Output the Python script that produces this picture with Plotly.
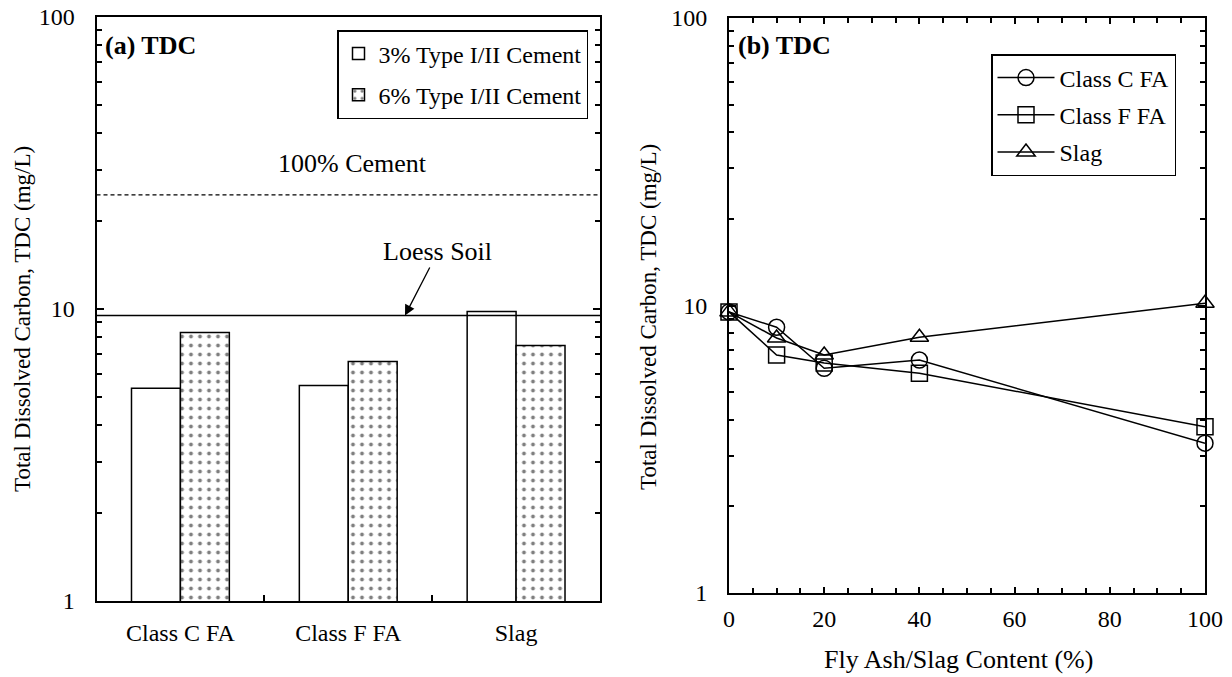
import plotly.graph_objects as go
import math

# ---------------- data ----------------
materials = ["Class C FA", "Class F FA", "Slag"]
tdc_3pct = [5.35, 5.47, 9.8]
tdc_6pct = [8.31, 6.61, 7.5]
cement_100 = 24.6
loess_soil = 9.5

content = [0, 10, 20, 40, 100]
class_c = [9.5, 8.4, 6.05, 6.46, 3.32]
class_f = [9.5, 6.73, 6.31, 5.81, 3.79]
slag = [9.5, 7.71, 6.73, 7.75, 10.18]

y_ticks = [1, 10, 100]
y_minor = [2, 3, 4, 5, 6, 7, 8, 9, 20, 30, 40, 50, 60, 70, 80, 90]

FONT = "Liberation Serif, Times New Roman, serif"
W, H = 1232, 677


def px(x):
    return x / W


def py(y):
    return 1 - y / H


fig = go.Figure()

# ---------- panel (a): bars ----------
fig.add_trace(go.Bar(
    x=materials, y=tdc_3pct, name="3% Type I/II Cement",
    marker=dict(color="white", line=dict(color="black", width=1.5)),
    xaxis="x", yaxis="y", legend="legend", legendgroup="g1"))
fig.add_trace(go.Bar(
    x=materials, y=tdc_6pct, name="6% Type I/II Cement",
    marker=dict(color="white", line=dict(color="black", width=1.5),
                pattern=dict(shape=".", fgcolor="black", bgcolor="white",
                             size=9, solidity=0.14)),
    xaxis="x", yaxis="y", legend="legend", legendgroup="g2"))

# reference lines on an overlaid numeric x axis
fig.add_trace(go.Scatter(x=[0, 1], y=[cement_100, cement_100], mode="lines",
                         line=dict(color="black", width=1.2, dash="4px,3px"),
                         xaxis="x3", yaxis="y", showlegend=False, hoverinfo="skip"))
fig.add_trace(go.Scatter(x=[0, 1], y=[loess_soil, loess_soil], mode="lines",
                         line=dict(color="black", width=1.5),
                         xaxis="x3", yaxis="y", showlegend=False, hoverinfo="skip"))

# ---------- panel (b): lines ----------
series = [("Class C FA", class_c, "circle-open"),
          ("Class F FA", class_f, "square-open"),
          ("Slag", slag, "triangle-up-open")]
for i, (nm, vals, sym) in enumerate(series):
    fig.add_trace(go.Scatter(
        x=content, y=vals, name=nm, mode="lines+markers",
        line=dict(color="black", width=1.5),
        marker=dict(symbol=sym, size=16, color="black", line=dict(width=1.5)),
        cliponaxis=False,
        xaxis="x2", yaxis="y2", legend="legend2", legendgroup=f"h{i}"))

ax_common = dict(showline=True, linecolor="black", linewidth=2,
                 showgrid=False, zeroline=False, ticklabeloverflow="allow",
                 tickfont=dict(family=FONT, size=24, color="black"))

xa_dom = [px(96.5), px(600)]
ya_dom = [py(601), py(17)]
xb_dom = [px(729), px(1205)]
yb_dom = [py(593), py(18)]

fig.update_layout(
    width=W, height=H,
    margin=dict(l=0, r=0, t=0, b=0, autoexpand=False),
    paper_bgcolor="white", plot_bgcolor="white",
    font=dict(family=FONT, size=22, color="black"),
    barmode="group", bargap=0.417, bargroupgap=0,
    xaxis=dict(domain=xa_dom, anchor="y", type="category",
               ticks="inside", tickson="boundaries", ticklen=6, tickwidth=1.5,
               tickcolor="black", mirror=True, ticklabelstandoff=9,
               **ax_common),
    yaxis=dict(domain=ya_dom, anchor="x", type="log", range=[0, 2],
               tickvals=y_ticks, ticktext=[str(v) for v in y_ticks],
               ticks="inside", ticklen=7, tickwidth=1.5, tickcolor="black",
               mirror="ticks", ticklabelstandoff=15,
               minor=dict(tickvals=y_minor, ticks="inside", ticklen=5,
                          tickwidth=1.5, tickcolor="black"),
               **ax_common),
    xaxis3=dict(domain=xa_dom, anchor="y", overlaying="x", range=[0, 1],
                visible=False),
    xaxis2=dict(domain=xb_dom, anchor="y2", range=[0, 100],
                tickvals=[0, 20, 40, 60, 80, 100],
                ticks="inside", ticklen=6, tickwidth=1.5, tickcolor="black",
                mirror="ticks", ticklabelstandoff=3,
                minor=dict(dtick=5, ticks="inside", ticklen=5,
                           tickwidth=1.5, tickcolor="black"),
                **ax_common),
    yaxis2=dict(domain=yb_dom, anchor="x2", type="log", range=[0, 2],
                tickvals=y_ticks, ticktext=[str(v) for v in y_ticks],
                ticks="inside", ticklen=7, tickwidth=1.5, tickcolor="black",
                mirror="ticks", ticklabelstandoff=15,
                minor=dict(tickvals=y_minor, ticks="inside", ticklen=5,
                           tickwidth=1.5, tickcolor="black"),
                **ax_common),
    legend=dict(x=px(337), y=py(30), xanchor="left", yanchor="top",
                bordercolor="black", borderwidth=1.5, bgcolor="white",
                font=dict(family=FONT, size=24), tracegroupgap=7,
                traceorder="grouped", itemwidth=30),
    legend2=dict(x=px(991), y=py(54), xanchor="left", yanchor="top",
                 bordercolor="black", borderwidth=1.5, bgcolor="white",
                 font=dict(family=FONT, size=24), tracegroupgap=3,
                 traceorder="grouped", itemwidth=57),
    showlegend=True,
)

annots = [
    dict(text="<b>(a) TDC</b>", x=px(103), y=py(46), xref="paper", yref="paper",
         xanchor="left", yanchor="middle", showarrow=False,
         font=dict(family=FONT, size=26)),
    dict(text="<b>(b) TDC</b>", x=px(736), y=py(46), xref="paper", yref="paper",
         xanchor="left", yanchor="middle", showarrow=False,
         font=dict(family=FONT, size=26)),
    dict(text="100% Cement", x=0.509, y=1.5, xref="x3", yref="y",
         xanchor="center", yanchor="middle",
         showarrow=False, font=dict(family=FONT, size=26)),
    dict(text="Loess Soil", x=0.6127, y=math.log10(loess_soil), xref="x3", yref="y",
         showarrow=True, arrowhead=2, arrowsize=1.6, arrowwidth=1.3,
         arrowcolor="black", ax=33, ay=-64, font=dict(family=FONT, size=26)),
    dict(text="Total Dissolved Carbon, TDC (mg/L)", x=px(22), y=py(319),
         xref="paper", yref="paper", textangle=-90, showarrow=False,
         xanchor="center", yanchor="middle",
         font=dict(family=FONT, size=23)),
    dict(text="Total Dissolved Carbon, TDC (mg/L)", x=px(648), y=py(317),
         xref="paper", yref="paper", textangle=-90, showarrow=False,
         xanchor="center", yanchor="middle",
         font=dict(family=FONT, size=23)),
    dict(text="Fly Ash/Slag Content (%)", x=px(958), y=py(659),
         xref="paper", yref="paper", showarrow=False,
         xanchor="center", yanchor="middle",
         font=dict(family=FONT, size=26)),
]
fig.update_layout(annotations=annots)

fig.write_html("out.html",
               config={"displayModeBar": False},
               post_script="document.body.style.margin='0';"
                           "document.body.style.overflow='hidden';")
